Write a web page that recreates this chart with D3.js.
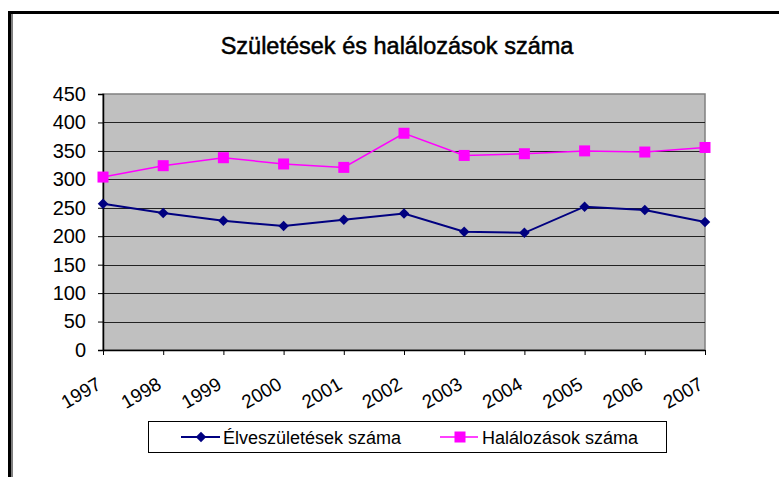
<!DOCTYPE html>
<html>
<head>
<meta charset="utf-8">
<script src="https://cdn.jsdelivr.net/npm/d3@7"></script>
<style>
  body { margin: 0; background: #fff; }
  svg { display: block; font-family: "Liberation Sans", Arial, sans-serif; }
</style>
</head>
<body>
<svg id="chart" width="779" height="477"></svg>
<script>
const years = ["1997", "1998", "1999", "2000", "2001", "2002", "2003", "2004", "2005", "2006", "2007"];
const births = [257, 241, 227, 218, 229, 240, 208, 206, 252, 246, 225];
const deaths = [304, 324, 338, 327, 321, 381, 342, 345, 350, 348, 356];
const yTicks = [0, 50, 100, 150, 200, 250, 300, 350, 400, 450];
const seriesNames = ["Élveszületések száma", "Halálozások száma"];

const plotLeft = 103, plotRight = 705, plotTop = 94, plotBottom = 350;
const svg = d3.select("#chart");

// outer frame (cut off at the right and bottom)
svg.append("line").attr("x1", 8).attr("y1", 12.5).attr("x2", 779).attr("y2", 12.5)
    .style("stroke", "black").style("stroke-width", 3);
svg.append("line").attr("x1", 9.5).attr("y1", 11).attr("x2", 9.5).attr("y2", 477)
    .style("stroke", "black").style("stroke-width", 3);
svg.append("line").attr("x1", 12).attr("y1", 14).attr("x2", 12).attr("y2", 477)
    .style("stroke", "black").style("stroke-width", 1);

const x = d3.scalePoint().domain(years).range([plotLeft, plotRight]);
const y = d3.scaleLinear().domain([0, 450]).range([plotBottom, plotTop]);

// plot area
svg.append("rect")
    .attr("x", plotLeft).attr("y", plotTop).attr("width", plotRight - plotLeft).attr("height", plotBottom - plotTop)
    .style("fill", "#C0C0C0").style("stroke", "#808080").style("stroke-width", 1.5);

// gridlines
svg.append("g").selectAll("line")
    .data(yTicks.filter(d => d > 0 && d < 450))
    .join("line")
    .attr("x1", plotLeft).attr("x2", plotRight)
    .attr("y1", d => Math.round(y(d)) + 0.5).attr("y2", d => Math.round(y(d)) + 0.5)
    .style("stroke", "#222").style("stroke-width", 1);

// y axis
const yAxis = svg.append("g")
    .attr("transform", "translate(" + plotLeft + ",0)")
    .call(d3.axisLeft(y).tickValues(yTicks).tickSize(5).tickPadding(12));
yAxis.select(".domain").style("stroke", "black").style("stroke-width", 1.5);
yAxis.selectAll("line").style("stroke", "black");
yAxis.selectAll("text").style("font-size", "20px").style("font-family", "Liberation Sans, Arial").attr("fill", "black");

// x axis
const xAxis = svg.append("g")
    .attr("transform", "translate(0," + plotBottom + ")")
    .call(d3.axisBottom(x).tickSize(5).tickSizeOuter(0));
xAxis.select(".domain").style("stroke", "black").style("stroke-width", 1.5);
xAxis.selectAll("line").style("stroke", "black");
xAxis.selectAll("text")
    .style("font-size", "19px").style("font-family", "Liberation Sans, Arial").attr("fill", "black")
    .attr("text-anchor", "end")
    .attr("dy", null)
    .attr("y", 0)
    .attr("transform", "translate(-1,38) rotate(-30)");

// lines
const line = d3.line().x((d, i) => x(years[i])).y(d => y(d));

svg.append("path").datum(births)
    .attr("fill", "none").attr("stroke", "#000080").attr("stroke-width", 2)
    .attr("d", line);
svg.append("path").datum(deaths)
    .attr("fill", "none").attr("stroke", "#FF00FF").attr("stroke-width", 1.5)
    .attr("d", line);

const diamond = d3.symbol().type(d3.symbolDiamond2).size(70);

svg.append("g").selectAll("path")
    .data(births)
    .join("path")
    .attr("d", diamond)
    .attr("transform", (d, i) => "translate(" + x(years[i]) + "," + y(d) + ")")
    .style("fill", "#000080");

svg.append("g").selectAll("rect")
    .data(deaths)
    .join("rect")
    .attr("x", (d, i) => x(years[i]) - 5.5).attr("y", d => y(d) - 5.5)
    .attr("width", 11).attr("height", 11)
    .style("fill", "#FF00FF");

// title
svg.append("text").text("Születések és halálozások száma")
    .attr("x", 397).attr("y", 54).attr("text-anchor", "middle")
    .style("font-size", "23.5px").style("fill", "black")
    .style("stroke", "black").style("stroke-width", 0.5);

// legend
svg.append("rect")
    .attr("x", 148.5).attr("y", 421.5).attr("width", 518).attr("height", 31)
    .style("fill", "white").style("stroke", "black").style("stroke-width", 1);

svg.append("line").attr("x1", 181).attr("y1", 437).attr("x2", 220).attr("y2", 437)
    .style("stroke", "#000080").style("stroke-width", 2);
svg.append("path").attr("d", diamond).attr("transform", "translate(201,437)").style("fill", "#000080");
svg.append("text").text(seriesNames[0]).attr("x", 223).attr("y", 443.5)
    .style("font-size", "18px");

svg.append("line").attr("x1", 440).attr("y1", 437).attr("x2", 478).attr("y2", 437)
    .style("stroke", "#FF00FF").style("stroke-width", 1.5);
svg.append("rect").attr("x", 454.5).attr("y", 431.5).attr("width", 11).attr("height", 11).style("fill", "#FF00FF");
svg.append("text").text(seriesNames[1]).attr("x", 482).attr("y", 443.5)
    .style("font-size", "18px");
</script>
</body>
</html>
